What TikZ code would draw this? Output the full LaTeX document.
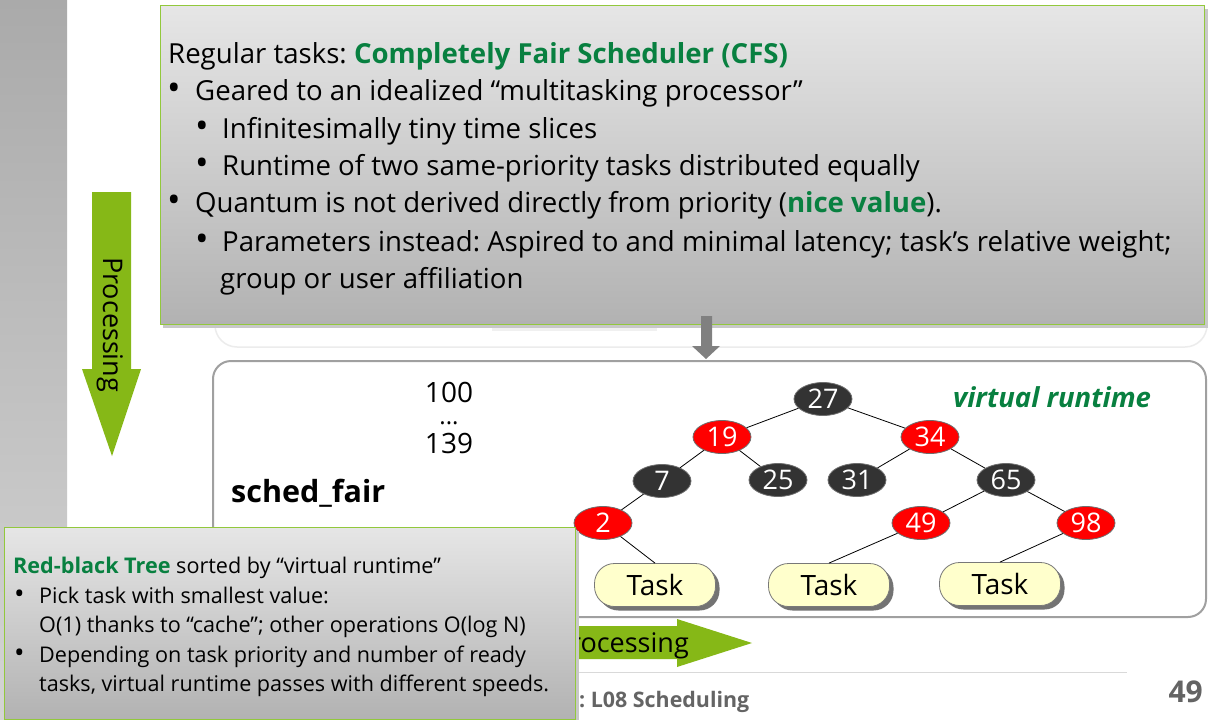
\documentclass[tikz,border=0pt]{standalone}
\usepackage{fontspec}
\setmainfont{Open Sans}
\usetikzlibrary{shapes.geometric,shadows}
\definecolor{cfsgreen}{RGB}{8,128,64}
\definecolor{arrgreen}{RGB}{134,184,23}
\definecolor{boxgreen}{RGB}{146,200,60}
\definecolor{nodeblack}{RGB}{51,51,51}
\definecolor{nodeedge}{RGB}{110,110,110}
\definecolor{taskfill}{RGB}{255,255,204}
\definecolor{taskedge}{RGB}{120,120,120}
\definecolor{taskshadow}{RGB}{115,115,115}
\definecolor{footgray}{RGB}{100,100,100}
\definecolor{gtop}{RGB}{230,230,230}
\definecolor{gbot}{RGB}{178,178,178}
\definecolor{bartop}{RGB}{170,170,170}
\definecolor{barbot}{RGB}{212,212,212}
\definecolor{faint}{RGB}{236,236,236}
\definecolor{strip}{RGB}{240,240,240}
\definecolor{boxshadow}{RGB}{200,200,200}
\definecolor{arrgray}{RGB}{128,128,128}
\definecolor{treeedge}{RGB}{160,160,160}
\definecolor{footline}{RGB}{217,217,217}
\frenchspacing
\begin{document}
\begin{tikzpicture}[x=1pt,y=-1pt,
  txt/.style={anchor=base west,inner sep=0pt,font=\fontsize{27.6}{30}\selectfont},
  bul/.style={anchor=base west,inner sep=0pt,font=\fontsize{36}{36}\selectfont},
  stxt/.style={anchor=base west,inner sep=0pt,font=\fontsize{21.6}{26}\selectfont},
  sbul/.style={anchor=base west,inner sep=0pt,font=\fontsize{28}{28}\selectfont},
  prio/.style={anchor=base,inner sep=0pt,font=\fontsize{28}{28}\selectfont},
  rbblack/.style={ellipse,fill=nodeblack,draw=nodeedge,line width=0.8pt,
    minimum width=58pt,minimum height=33pt,inner sep=0pt,text=white,font=\fontsize{27}{27}\selectfont},
  rbred/.style={rbblack,fill=red},
  taskbox/.style={rectangle,rounded corners=20pt,fill=taskfill,draw=taskedge,
    line width=0.8pt,minimum width=121pt,minimum height=43pt,inner sep=0pt,
    font=\fontsize{28}{28}\selectfont,
    drop shadow={shadow xshift=4pt,shadow yshift=-4pt,fill=taskshadow,opacity=1}},
  edge/.style={draw=black,line width=0.8pt},
  graybox/.style={top color=gtop,bottom color=gbot,draw=boxgreen,line width=1pt}
]
\useasboundingbox (0,0) rectangle (1211,720);
\fill[white] (0,0) rectangle (1211,720);
% left bar
\shade[top color=bartop,bottom color=barbot] (0,0) rectangle (67,720);
% hidden box behind
\draw[fill=white,draw=faint,line width=1.5pt,rounded corners=22pt] (215,150) rectangle (1207,347);
\fill[strip] (492,324) rectangle (657,331);
% top box
\fill[boxshadow] (163,9) rectangle (1208,328);
\path[graybox] (160,5) rectangle (1204,324);
\node[txt] (l1) at (168,63) {Regular tasks: \textcolor{cfsgreen}{\bfseries Completely Fair Scheduler (CFS)}};
\node[bul] (b2) at (167,100) {•};
\node[txt] (l2) at (195,100) {Geared to an idealized “multitasking processor”};
\node[bul] (b3) at (195,138) {•};
\node[txt] (l3) at (222,138) {Infinitesimally tiny time slices};
\node[bul] (b4) at (195,175) {•};
\node[txt] (l4) at (222,175) {Runtime of two same-priority tasks distributed equally};
\node[bul] (b5) at (167,212) {•};
\node[txt] (l5) at (195,212) {Quantum is not derived directly from priority (\textcolor{cfsgreen}{\bfseries nice value}).};
\node[bul] (b6) at (195,251) {•};
\node[txt] (l6) at (222,251) {Parameters instead: Aspired to and minimal latency; task’s relative weight;};
\node[txt] (l7) at (220,288) {group or user affiliation};
% gray down arrow
\fill[arrgray] (701,316) -- (712,316) -- (712,346) -- (720,346) -- (706,359) -- (692,346) -- (701,346) -- cycle;
% green vertical arrow
\fill[arrgreen] (92,192) -- (131,192) -- (131,369) -- (141,369) -- (112,456) -- (82,369) -- (92,369) -- cycle;
\node[rotate=-90,anchor=base west,inner sep=0pt,font=\fontsize{27}{27}\selectfont] (pv) at (103,257) {Processing};
% tree box
\draw[fill=white,draw=treeedge,line width=2pt,rounded corners=18pt] (213,361) rectangle (1206,617);
\node[prio] (p100) at (449,402) {100};
\node[prio,font=\fontsize{24}{24}\selectfont] (pdots) at (449,424) {...};
\node[prio] (p139) at (449,453) {139};
\node[anchor=base west,inner sep=0pt,font=\bfseries\fontsize{30.5}{30}\selectfont] (sf) at (231,502) {sched\_fair};
\node[anchor=base west,inner sep=0pt,text=cfsgreen,font=\bfseries\itshape\fontsize{27.5}{27}\selectfont] (vr) at (953,407) {virtual runtime};
\node[rbblack] (n27) at (823,399) {27};
\node[rbred] (n19) at (722,437) {19};
\node[rbred] (n34) at (930,437) {34};
\node[rbblack] (n7) at (662,481) {7};
\node[rbblack] (n25) at (778,480) {25};
\node[rbblack] (n31) at (857,480) {31};
\node[rbblack] (n65) at (1006,480) {65};
\node[rbred] (n2) at (603,523) {2};
\node[rbred] (n49) at (921,523) {49};
\node[rbred] (n98) at (1086,523) {98};
\node[taskbox] (t1) at (655,585) {Task};
\node[taskbox] (t2) at (829,585) {Task};
\node[taskbox] (t3) at (1000,584) {Task};
\draw[edge] (n27) -- (n19);
\draw[edge] (n27) -- (n34);
\draw[edge] (n19) -- (n7);
\draw[edge] (n19) -- (n25);
\draw[edge] (n34) -- (n31);
\draw[edge] (n34) -- (n65);
\draw[edge] (n7) -- (n2);
\draw[edge] (n65) -- (n49);
\draw[edge] (n65) -- (n98);
\draw[edge] (n2) -- (t1.north);
\draw[edge] (n49) -- (t2.north);
\draw[edge] (n98) -- (t3.north);
% green horizontal arrow
\fill[arrgreen] (450,626) -- (677,626) -- (677,619) -- (752,643) -- (677,667) -- (677,659) -- (450,659) -- cycle;
\node[anchor=base east,inner sep=0pt,font=\fontsize{27}{27}\selectfont] (ph) at (689,652) {Processing};
% footer
\draw[footline,line width=1pt] (200,672) -- (1127,672);
\node[anchor=base west,inner sep=0pt,text=footgray,font=\bfseries\fontsize{21.4}{21}\selectfont] (ft) at (579,707) {: L08 Scheduling};
\node[anchor=base east,inner sep=0pt,text=footgray,font=\bfseries\fontsize{30}{30}\selectfont] (pg) at (1203,702) {49};
% bottom-left box
\fill[boxshadow] (7,531) rectangle (579,722);
\path[graybox] (4,527) rectangle (575,719);
\node[stxt] (r1) at (13,573) {\textcolor{cfsgreen}{\bfseries Red-black Tree} sorted by “virtual runtime”};
\node[sbul] (rb2) at (14,603) {•};
\node[stxt] (r2) at (39,603) {Pick task with smallest value:};
\node[stxt] (r3) at (39,632) {O(1) thanks to “cache”; other operations O(log N)};
\node[sbul] (rb4) at (14,662) {•};
\node[stxt] (r4) at (39,662) {Depending on task priority and number of ready};
\node[stxt] (r5) at (39,691) {tasks, virtual runtime passes with different speeds.};
\end{tikzpicture}
\end{document}
